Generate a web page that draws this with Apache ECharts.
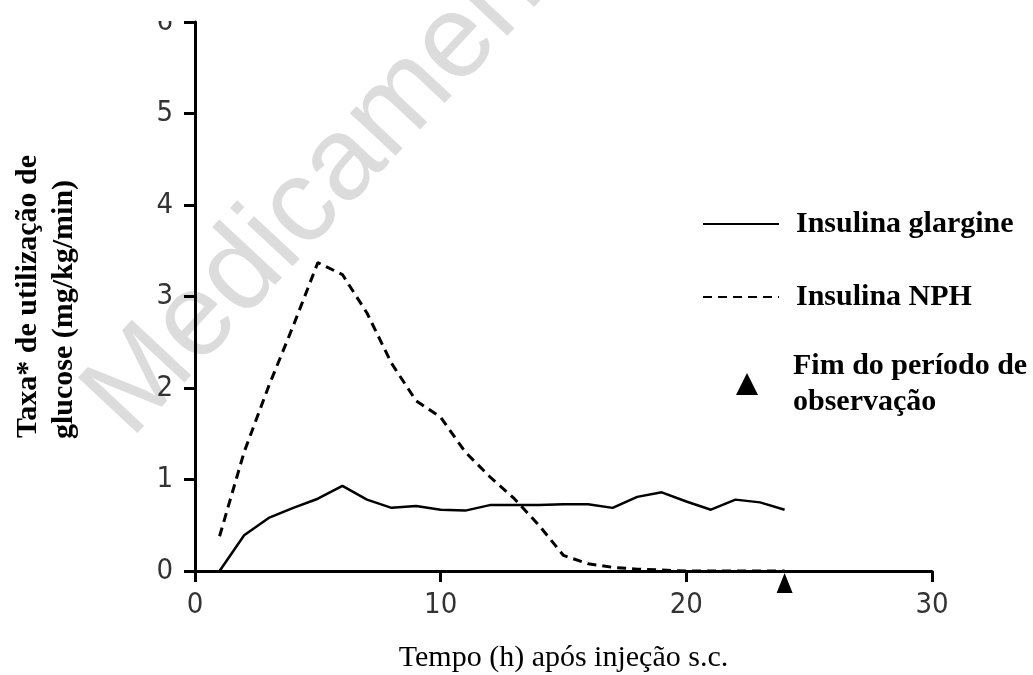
<!DOCTYPE html>
<html>
<head>
<meta charset="utf-8">
<script src="https://cdn.jsdelivr.net/npm/echarts@6/dist/echarts.min.js"></script>
<style>
  html, body { margin: 0; padding: 0; background: #fff; }
  #chart { width: 1033px; height: 675px; }
</style>
</head>
<body>
<div id="chart"></div>
<script>
// hours after s.c. injection
var hours = [1, 2, 3, 4, 5, 6, 7, 8, 9, 10, 11, 12, 13, 14, 15, 16, 17, 18, 19, 20, 21, 22, 23, 24];
// glucose utilisation rate (mg/kg/min)
var glargine = [0, 0.39, 0.58, 0.69, 0.79, 0.93, 0.78, 0.69, 0.71, 0.67, 0.66, 0.72, 0.72, 0.72, 0.73, 0.73, 0.69, 0.81, 0.86, 0.76, 0.67, 0.78, 0.75, 0.67];
var nph = [0.38, 1.3, 2.02, 2.68, 3.37, 3.24, 2.82, 2.27, 1.86, 1.68, 1.3, 1.03, 0.79, 0.5, 0.17, 0.08, 0.04, 0.02, 0.01, 0, 0, 0, 0, 0];
// end of observation period (h)
var endObs = [24];

var nameGlargine = 'Insulina glargine';
var nameNph = 'Insulina NPH';
var nameEnd = 'Fim do período de\nobservação';

var tickFont = "'DejaVu Sans Condensed', sans-serif";
var serif = "'Liberation Serif', 'DejaVu Serif', serif";

function pairs(xs, ys){
  var out = [];
  for(var i = 0; i < xs.length; i++){
    out.push([xs[i], ys[i]]);
  }
  return out;
}

var chart = echarts.init(document.getElementById('chart'), null, {renderer: 'canvas'});

var option = {
  animation: false,
  backgroundColor: '#fff',
  grid: { left: 195, right: 101, top: 22, bottom: 104, containLabel: false, outerBoundsMode: 'none' },
  graphic: [
    { // faint watermark behind the plot
      type: 'text',
      x: 150, y: 458,
      rotation: 47 * Math.PI / 180,
      z: -10,
      silent: true,
      style: {
        text: 'Medicamento',
        font: "118px 'Liberation Sans', sans-serif",
        fill: '#dcdcdc',
        textAlign: 'left',
        textVerticalAlign: 'bottom'
      }
    },
    { // the source picture is cut off at the top
      type: 'rect',
      shape: { x: 140, y: 0, width: 50, height: 21 },
      z: 100,
      silent: true,
      style: { fill: '#fff' }
    }
  ],
  legend: [
    {
      data: [nameGlargine, nameNph],
      orient: 'vertical',
      left: 702,
      top: 209,
      padding: 0,
      itemWidth: 76,
      itemHeight: 14,
      itemGap: 43,
      selectedMode: false,
      itemStyle: { opacity: 0 },
      textStyle: {
        fontFamily: serif, fontWeight: 'bold', fontSize: 30, lineHeight: 30,
        color: '#000', padding: [0, 0, 0, 12]
      }
    },
    {
      data: [{ name: nameEnd, icon: 'triangle' }],
      orient: 'vertical',
      left: 736,
      top: 340,
      padding: 0,
      itemWidth: 22,
      itemHeight: 22,
      selectedMode: false,
      itemStyle: { color: '#000', opacity: 1 },
      textStyle: {
        fontFamily: serif, fontWeight: 'bold', fontSize: 30, lineHeight: 36,
        color: '#000', padding: [16, 0, 0, 30]
      }
    }
  ],
  xAxis: {
    type: 'value',
    min: 0, max: 30, interval: 10,
    name: 'Tempo (h) após injeção s.c.',
    nameLocation: 'middle',
    nameGap: 72,
    nameTextStyle: { fontFamily: serif, fontSize: 30, color: '#000' },
    splitLine: { show: false },
    axisLine: { show: true, onZero: false, lineStyle: { color: '#000', width: 3 } },
    axisTick: { show: true, length: 11, lineStyle: { color: '#000', width: 3 } },
    axisLabel: { margin: 20, fontFamily: tickFont, fontSize: 29, color: '#333' }
  },
  yAxis: {
    type: 'value',
    min: 0, max: 6, interval: 1,
    name: '{a|Taxa* de utilização de}\n{b|glucose (mg/kg/min)}',
    nameLocation: 'middle',
    nameRotate: 90,
    nameGap: 113,
    nameTextStyle: {
      fontFamily: serif, fontWeight: 'bold', fontSize: 30, lineHeight: 36, color: '#000',
      rich: {
        a: { fontFamily: serif, fontWeight: 'bold', fontSize: 30, lineHeight: 36, color: '#000' },
        b: { fontFamily: serif, fontWeight: 'bold', fontSize: 30, lineHeight: 36, color: '#000', padding: [0, 26, 0, 0] }
      }
    },
    splitLine: { show: false },
    axisLine: { show: true, lineStyle: { color: '#000', width: 3 } },
    axisTick: { show: true, length: 11, lineStyle: { color: '#000', width: 3 } },
    axisLabel: { margin: 22, fontFamily: tickFont, fontSize: 29, color: '#333', padding: [0, 0, 12, 0] }
  },
  series: [
    {
      name: nameGlargine,
      type: 'line',
      symbol: 'none',
      showSymbol: false,
      data: pairs(hours, glargine),
      lineStyle: { color: '#000', width: 2.5, type: 'solid' },
      itemStyle: { color: '#000' },
      z: 3
    },
    {
      name: nameNph,
      type: 'line',
      symbol: 'none',
      showSymbol: false,
      data: pairs(hours, nph),
      lineStyle: { color: '#000', width: 3, type: [9, 6] },
      itemStyle: { color: '#000' },
      z: 3
    },
    {
      name: nameEnd,
      type: 'scatter',
      symbol: 'triangle',
      symbolSize: [16, 20],
      symbolOffset: [0, 12],
      clip: false,
      data: endObs.map(function(h){ return [h, 0]; }),
      itemStyle: { color: '#000', opacity: 1 },
      z: 4
    }
  ]
};

chart.setOption(option);
</script>
</body>
</html>
